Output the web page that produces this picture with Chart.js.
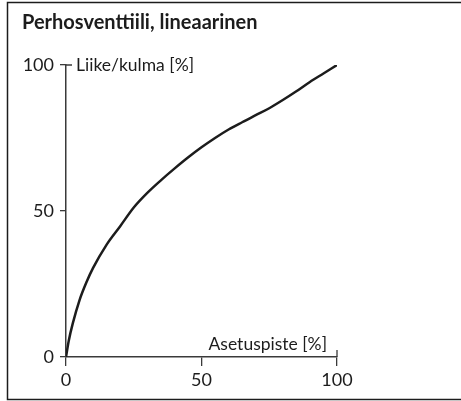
<!DOCTYPE html>
<html>
<head>
<meta charset="utf-8">
<script src="https://cdn.jsdelivr.net/npm/chart.js@4/dist/chart.umd.min.js"></script>
<style>
  html, body { margin: 0; padding: 0; background: #fff; }
  #wrap { width: 461px; height: 401px; }
</style>
</head>
<body>
<div id="wrap"><canvas id="c" width="461" height="401"></canvas></div>
<script>
// Butterfly valve, linear characteristic: travel/angle versus set point
const chartTitle = 'Perhosventtiili, lineaarinen';
const xAxisTitle = 'Asetuspiste [%]';
const yAxisTitle = 'Liike/kulma [%]';
const xTicks = [0, 50, 100];
const yTicks = [0, 50, 100];
const setPoint = [0, 1, 2.5, 5, 7.5, 10, 15, 20, 25, 30, 35, 40, 45, 50, 55, 60, 65, 70, 75, 80, 85, 90, 95, 100];
const travel   = [0, 5.5, 11.5, 19.5, 25.5, 30.5, 38.5, 44.8, 51.2, 56.2, 60.5, 64.5, 68.3, 71.8, 75, 77.9, 80.4, 82.8, 85.2, 88, 91, 94.2, 97.1, 100];

const INK = '#1c1c1c';
const AXIS = '#3a3a3a';
const FONT = 'Lato, "DejaVu Sans", sans-serif';

// Frame, heading, axis titles and the inward end ticks at 100
const decorations = {
  id: 'decorations',
  beforeDraw(chart) {
    const ctx = chart.ctx;
    ctx.save();
    ctx.fillStyle = '#fff';
    ctx.fillRect(0, 0, chart.width, chart.height);
    ctx.strokeStyle = INK;
    ctx.lineWidth = 1.5;
    ctx.beginPath();
    ctx.moveTo(chart.width + 2, 2.5);
    ctx.lineTo(7.5, 2.5);
    ctx.lineTo(7.5, 399.5);
    ctx.lineTo(chart.width + 2, 399.5);
    ctx.stroke();
    ctx.restore();
  },
  afterDraw(chart) {
    const ctx = chart.ctx;
    const xs = chart.scales.x, ys = chart.scales.y;
    ctx.save();
    ctx.fillStyle = INK;
    ctx.font = 'bold 20px ' + FONT;
    ctx.textBaseline = 'alphabetic';
    ctx.textAlign = 'left';
    ctx.fillText(chartTitle, 22, 29);

    ctx.font = '17.5px ' + FONT;
    ctx.fillText(yAxisTitle, xs.getPixelForValue(0) + 10, ys.getPixelForValue(100) + 6);
    ctx.textAlign = 'right';
    ctx.fillText(xAxisTitle, xs.getPixelForValue(100) - 10, ys.getPixelForValue(0) - 7);

    ctx.strokeStyle = AXIS;
    ctx.lineWidth = 1.3;
    const y100 = ys.getPixelForValue(100), x0 = xs.getPixelForValue(0);
    const x100 = xs.getPixelForValue(100), y0 = ys.getPixelForValue(0);
    ctx.beginPath();
    ctx.moveTo(x0, y100); ctx.lineTo(x0 + 6, y100);
    ctx.moveTo(x100, y0); ctx.lineTo(x100, y0 - 7);
    ctx.stroke();
    ctx.restore();
  }
};

new Chart(document.getElementById('c'), {
  type: 'scatter',
  data: {
    datasets: [{
      data: setPoint.map((x, i) => ({ x, y: travel[i] })),
      showLine: true,
      borderColor: INK,
      borderWidth: 2.5,
      pointRadius: 0,
      cubicInterpolationMode: 'monotone',
      fill: false
    }]
  },
  options: {
    responsive: false,
    animation: false,
    devicePixelRatio: 1,
    layout: { padding: { top: 65, right: 124, left: 0, bottom: 0 } },
    plugins: { legend: { display: false }, tooltip: { enabled: false }, title: { display: false } },
    scales: {
      x: {
        type: 'linear', min: 0, max: 100,
        afterFit(s) { s.height = 44; },
        afterBuildTicks(s) { s.ticks = xTicks.map(v => ({ value: v })); },
        ticks: { color: INK, font: { family: FONT, size: 18 }, padding: 3, maxRotation: 0 },
        grid: { drawOnChartArea: false, drawTicks: true, tickLength: 9, color: AXIS, lineWidth: 1.3 },
        border: { display: true, color: AXIS, width: 1.5 }
      },
      y: {
        type: 'linear', min: 0, max: 100,
        afterFit(s) { s.width = 66; },
        afterBuildTicks(s) { s.ticks = yTicks.map(v => ({ value: v })); },
        ticks: { color: INK, font: { family: FONT, size: 18 }, padding: 6 },
        grid: { drawOnChartArea: false, drawTicks: true, tickLength: 6, color: AXIS, lineWidth: 1.3 },
        border: { display: true, color: AXIS, width: 1.5 }
      }
    }
  },
  plugins: [decorations]
});
</script>
</body>
</html>
